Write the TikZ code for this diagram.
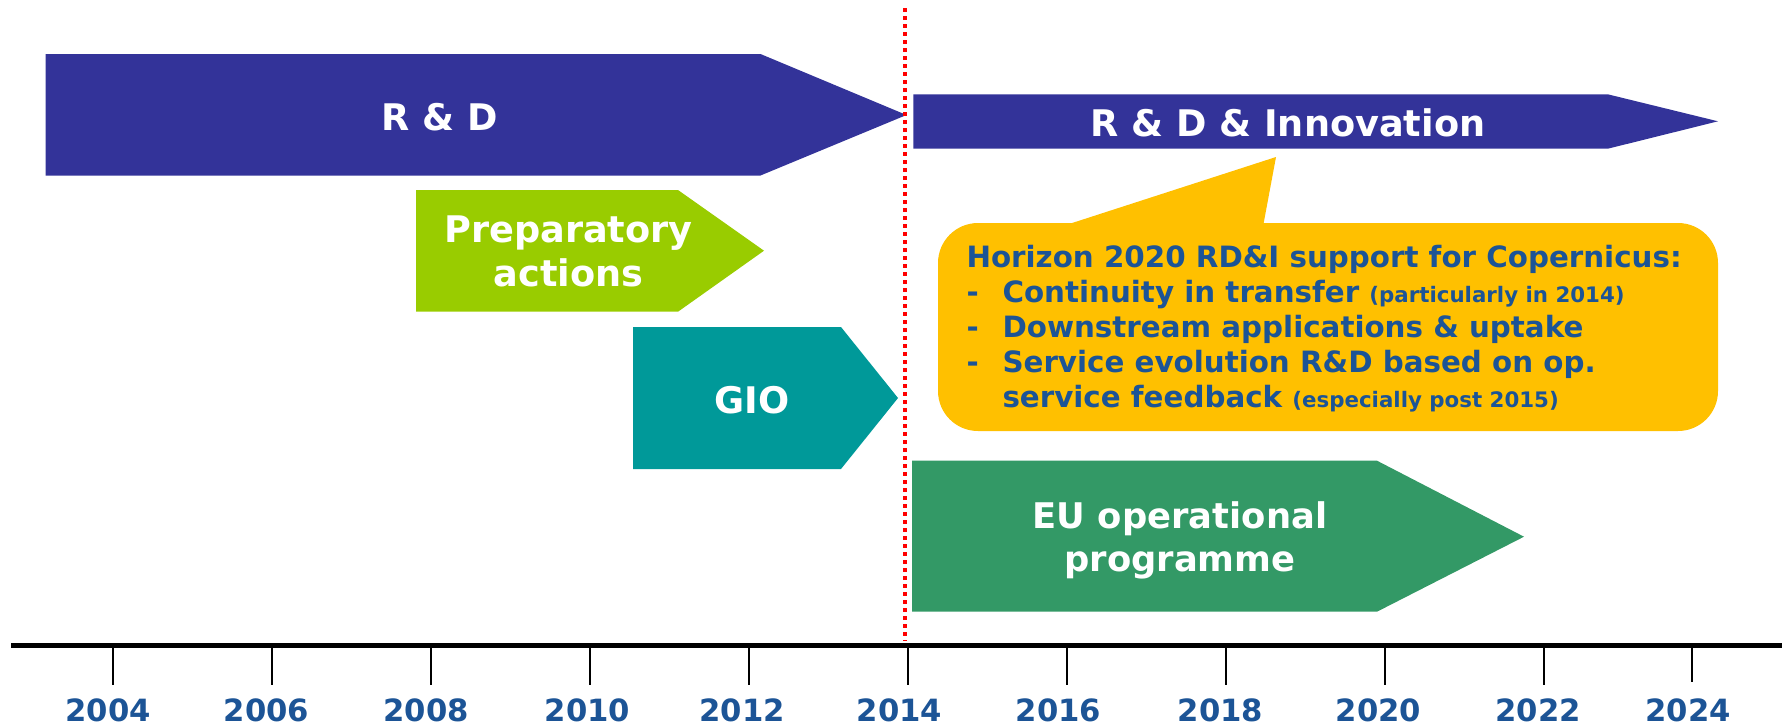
\documentclass[tikz,border=0pt]{standalone}
\usepackage{fontspec}
\setmainfont{DejaVu Sans}

\definecolor{rdblue}{RGB}{51,51,153}
\definecolor{prepgreen}{RGB}{153,204,0}
\definecolor{gioteal}{RGB}{0,153,153}
\definecolor{opgreen}{RGB}{51,153,102}
\definecolor{calloutyellow}{RGB}{255,192,0}
\definecolor{labelblue}{RGB}{28,84,150}

\newcommand{\smallnote}[1]{{\fontsize{16}{19}\selectfont #1}}
\newcommand{\itemdash}{\makebox[27pt][l]{-}}

\tikzset{every picture/.style={line width=0.75pt}}
\tikzset{
  bartext/.style={inner sep=0.75pt, color=white, font=\bfseries\fontsize{27.5}{33}\selectfont},
  yearlbl/.style={anchor=base, inner sep=0.75pt, color=labelblue, font=\bfseries\fontsize{23}{27}\selectfont},
  calltext/.style={anchor=base west, inner sep=0pt, color=labelblue, font=\bfseries\fontsize{22}{26}\selectfont},
  yeartick/.style={line width=1.5pt},
}

\begin{document}
\begin{tikzpicture}[x=0.75pt,y=0.75pt,yscale=-1,xscale=1]
\useasboundingbox (0,0) rectangle (1782,726);

%Shape: Arrow R&D
\draw [fill=rdblue, draw=none] (45.5,54) -- (760.5,54) -- (906.5,115) -- (760.5,175.5) -- (45.5,175.5) -- cycle ;
%Shape: Arrow R&D&I
\draw [fill=rdblue, draw=none] (913.3,94.3) -- (1607.8,94.3) -- (1718,121.3) -- (1607.8,148.7) -- (913.3,148.7) -- cycle ;
%Shape: Arrow preparatory
\draw [fill=prepgreen, draw=none] (416,190) -- (678,190) -- (764,250.7) -- (678,311.7) -- (416,311.7) -- cycle ;
%Shape: Arrow GIO
\draw [fill=gioteal, draw=none] (633,327) -- (841,327) -- (898,398) -- (841,469) -- (633,469) -- cycle ;
%Shape: Arrow operational
\draw [fill=opgreen, draw=none] (912,460.7) -- (1377,460.7) -- (1524,536.7) -- (1377,611.7) -- (912,611.7) -- cycle ;
%Shape: Callout
\draw [fill=calloutyellow, draw=none, rounded corners=30pt] (938,223) rectangle (1718,431) ;
\draw [fill=calloutyellow, draw=none] (1069,224) -- (1276,157) -- (1262,232) -- (1075,232) -- cycle ;

%Straight Lines (2014 marker)
\draw [color=red, line width=3pt, dash pattern={on 3pt off 3pt}] (905,8) -- (905,641) ;
%Straight Lines (axis)
\draw [line width=3.75pt] (11,645.5) -- (1782,645.5) ;
%Straight Lines (ticks)
\draw [yeartick] (112.5,648) -- (112.5,685) ;
\draw [yeartick] (271.6,648) -- (271.6,685) ;
\draw [yeartick] (430.7,648) -- (430.7,685) ;
\draw [yeartick] (589.8,648) -- (589.8,685) ;
\draw [yeartick] (748.9,648) -- (748.9,685) ;
\draw [yeartick] (908,648) -- (908,685) ;
\draw [yeartick] (1067,648) -- (1067,685) ;
\draw [yeartick] (1226,648) -- (1226,685) ;
\draw [yeartick] (1385,648) -- (1385,685) ;
\draw [yeartick] (1544,648) -- (1544,685) ;
\draw [yeartick] (1692,645) -- (1692,682) ;

% Text Node
\draw (439.6,130) node (rd) [bartext, anchor=base] {R \& D};
% Text Node
\draw (1288,136) node (rdi) [bartext, anchor=base] {R \& D \& Innovation};
% Text Node
\draw (568.5,251.7) node (prep) [bartext, align=center] {Preparatory\\actions};
% Text Node
\draw (752,413.3) node (gio) [bartext, anchor=base] {GIO};
% Text Node
\draw (1180,540.6) node (euop) [bartext, align=center, font=\bfseries\fontsize{26.5}{32}\selectfont] {EU operational\\programme};

% Text Node
\draw (966,267) node (h2020) [calltext] {Horizon 2020 RD\&I support for Copernicus:};
% Text Node
\draw (966,302) node (cont) [calltext] {\itemdash Continuity in transfer \smallnote{(particularly in 2014)}};
% Text Node
\draw (966,337) node (down) [calltext] {\itemdash Downstream applications \& uptake};
% Text Node
\draw (966,372) node (serv) [calltext] {\itemdash Service evolution R\&D based on op.};
% Text Node
\draw (966,407) node (servb) [calltext] {\hspace*{27pt}service feedback \smallnote{(especially post 2015)}};

% Text Node
\draw (108,721.7) node (y2004) [yearlbl] {2004};
% Text Node
\draw (266.5,721.7) node (y2006) [yearlbl] {2006};
% Text Node
\draw (426,721.7) node (y2008) [yearlbl] {2008};
% Text Node
\draw (587.5,721.7) node (y2010) [yearlbl] {2010};
% Text Node
\draw (742,721.7) node (y2012) [yearlbl] {2012};
% Text Node
\draw (899.4,721.7) node (y2014) [yearlbl] {2014};
% Text Node
\draw (1058.5,721.7) node (y2016) [yearlbl] {2016};
% Text Node
\draw (1220.5,721.7) node (y2018) [yearlbl] {2018};
% Text Node
\draw (1378.4,721.7) node (y2020) [yearlbl] {2020};
% Text Node
\draw (1538,721.7) node (y2022) [yearlbl] {2022};
% Text Node
\draw (1688,721.7) node (y2024) [yearlbl] {2024};

\end{tikzpicture}
\end{document}
